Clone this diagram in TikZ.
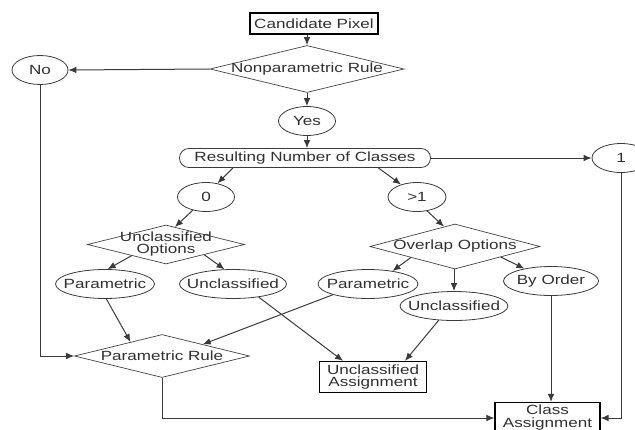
\documentclass[tikz,border=0pt]{standalone}
\usepackage{fontspec}
\setmainfont[FakeStretch=1.28]{Liberation Sans}
\usetikzlibrary{arrows.meta,positioning,shapes.geometric}
\definecolor{linegray}{HTML}{3A3A3A}
\definecolor{textgray}{HTML}{303030}

\begin{document}
\begin{tikzpicture}[x=0.75pt, y=-0.75pt,
  every node/.style={font=\fontsize{10}{9}\selectfont, text=textgray, align=center},
  procbox/.style={rectangle, draw=black, line width=0.9pt, inner sep=0pt},
  choice/.style={ellipse, draw=linegray, line width=0.6pt, inner sep=0pt, minimum height=21.75pt, label={center:#1}},
  test/.style={diamond, draw=linegray, line width=0.5pt, inner sep=0pt, label={center:#1}},
  flow/.style={-{Latex[length=6pt,width=5pt]}, draw=linegray, line width=0.75pt},
]
  \useasboundingbox (0,0) rectangle (635,429);

  \node[procbox, minimum width=96pt, minimum height=15.75pt] (cand) at (314,23.5) {Candidate Pixel};
  \node[test={Nonparametric Rule}, minimum width=145.5pt, minimum height=35.25pt] (nonpar) at (307,69) {};
  \node[choice=No, minimum width=42pt] (no) at (40,70) {};
  \node[choice=Yes, minimum width=42.75pt] (yes) at (307,121) {};
  \node[rectangle, rounded corners=7pt, draw=linegray, line width=0.6pt, inner sep=0pt,
    minimum width=188.25pt, minimum height=14.25pt] (res) at (305,158) {Resulting Number of Classes};
  \node[choice=1, minimum width=43.5pt] (one) at (621,158) {};
  \node[choice=0, minimum width=42.75pt] (zero) at (206,197) {};
  \node[choice={>1}, minimum width=43.5pt] (more) at (417,197) {};

  \node[test={Unclassified\\Options}, minimum width=117.75pt, minimum height=29.25pt] (uopt) at (166,244.5) {};
  \node[test={Overlap Options}, minimum width=127.5pt, minimum height=33.75pt] (oopt) at (455,246.5) {};

  \node[choice=Parametric, minimum width=74.25pt] (paraml) at (105,284) {};
  \node[choice=Unclassified, minimum width=80.25pt] (unclml) at (233,284) {};
  \node[choice=Parametric, minimum width=75pt] (paramr) at (368,284) {};
  \node[choice=Unclassified, minimum width=81pt] (unclmr) at (454,306) {};
  \node[choice={By Order}, minimum width=71.25pt] (byord) at (551,281) {};

  \node[test={Parametric Rule}, minimum width=131.25pt, minimum height=32.25pt] (prule) at (162,356) {};
  \node[procbox, minimum width=80.25pt, minimum height=23.25pt] (uass) at (373,377) {Unclassified\\Assignment};
  \node[procbox, minimum width=78.75pt, minimum height=23.25pt, font=\fontsize{10}{9.75}\selectfont] (class) at (547.5,418) {Class\\Assignment};

  \draw[flow] (cand.south -| nonpar.north) -- (nonpar.north);
  \draw[flow] (nonpar.west) -- (no.east);
  \draw[flow] (nonpar.south) -- (yes.north);
  \draw[flow] (yes.south) -- (yes.south |- res.north);
  \draw[flow] (res.east) -- (one.west);
  \draw[flow] ([xshift=-54pt]res.south) -- (zero.50);
  \draw[flow] ([xshift=55pt]res.south) -- (more.142);
  \draw[flow] (zero.-135) -- (uopt.63);
  \draw[flow] (more.-54) -- (oopt.119);
  \draw[flow] (uopt.-162) -- (paraml.80);
  \draw[flow] (uopt.-15) -- (unclml.120);
  \draw[flow] (oopt.-166) -- (paramr.28);
  \draw[flow] (oopt.south) -- (oopt.south -| unclmr.north) -- (unclmr.north);
  \draw[flow] (oopt.-13) -- (byord.155);
  \draw[flow] (paraml.-85) -- (prule.156);
  \draw[flow] (paramr.-163) -- (prule.16);
  \draw[flow] (unclml.-27) -- ([xshift=-22.5pt]uass.north);
  \draw[flow] (unclmr.-137) -- ([xshift=24pt]uass.north);
  \draw[flow] (byord.south) -- (byord.south |- class.north);
  \draw[flow] (no.south) |- (prule.west);
  \draw[flow] (prule.south) |- (class.west);
  \draw[flow] (one.south) |- (class.east);
\end{tikzpicture}
\end{document}
